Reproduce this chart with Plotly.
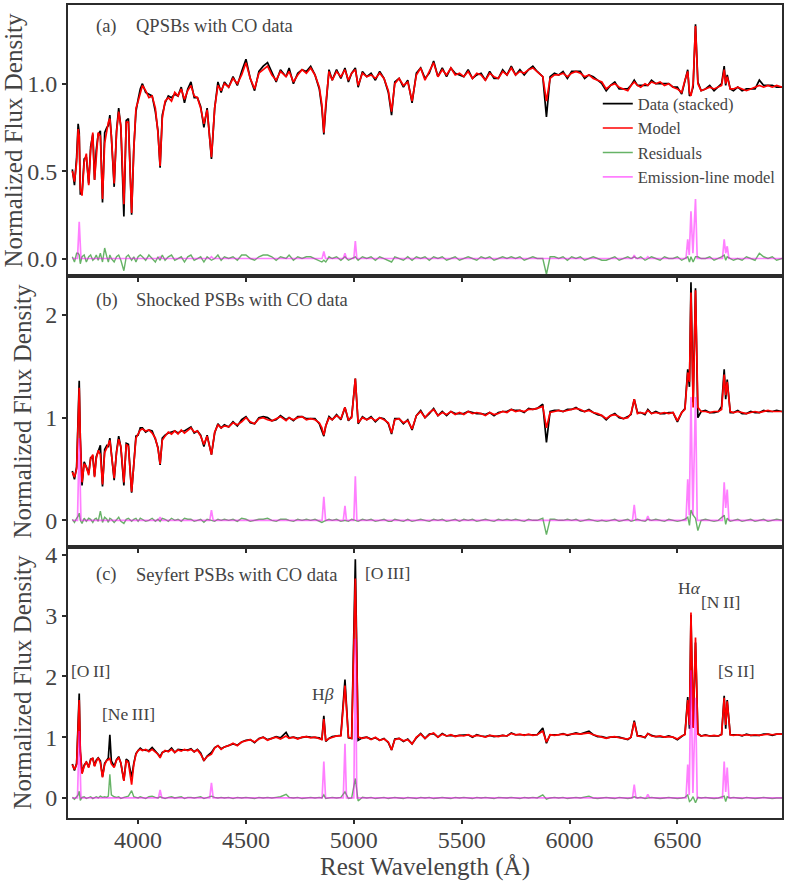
import plotly.graph_objects as go
from plotly.subplots import make_subplots

# ---------------- data ----------------
wave = [
    3695, 3705, 3715, 3722, 3727, 3732, 3740, 3750, 3760, 3771,
    3780, 3790, 3798, 3806, 3815, 3825, 3835, 3845, 3855, 3862,
    3869, 3876, 3889, 3900, 3910, 3920, 3934, 3945, 3955, 3970,
    3980, 3990, 4000, 4010, 4020, 4035, 4050, 4065, 4080, 4092,
    4102, 4112, 4125, 4140, 4155, 4170, 4185, 4200, 4215, 4230,
    4245, 4260, 4275, 4290, 4305, 4320, 4340, 4355, 4370, 4385,
    4400, 4420, 4440, 4460, 4480, 4500, 4520, 4540, 4560, 4580,
    4600, 4620, 4640, 4660, 4686, 4700, 4720, 4740, 4760, 4780,
    4800, 4820, 4840, 4852, 4861, 4870, 4885, 4900, 4920, 4940,
    4959, 4975, 4990, 5007, 5020, 5040, 5060, 5080, 5100, 5120,
    5140, 5160, 5175, 5190, 5210, 5230, 5250, 5270, 5290, 5310,
    5330, 5350, 5370, 5390, 5410, 5430, 5450, 5470, 5490, 5510,
    5530, 5550, 5570, 5590, 5610, 5630, 5650, 5670, 5690, 5710,
    5730, 5750, 5770, 5790, 5810, 5830, 5850, 5876, 5893, 5910,
    5930, 5950, 5970, 5990, 6010, 6030, 6050, 6070, 6090, 6110,
    6130, 6150, 6170, 6190, 6210, 6230, 6250, 6270, 6285, 6300,
    6315, 6330, 6350, 6363, 6380, 6400, 6420, 6440, 6460, 6480,
    6500, 6520, 6535, 6548, 6556, 6563, 6573, 6584, 6595, 6610,
    6630, 6650, 6670, 6690, 6705, 6717, 6724, 6731, 6745, 6760,
    6780, 6800, 6820, 6840, 6860, 6880, 6900, 6920, 6940, 6960,
    6985,
]

model_a = [
    0.50, 0.44, 0.55, 0.74, 0.70, 0.40, 0.36, 0.55, 0.60, 0.42,
    0.62, 0.72, 0.45, 0.60, 0.72, 0.70, 0.34, 0.66, 0.74, 0.78,
    0.80, 0.70, 0.43, 0.72, 0.84, 0.76, 0.31, 0.78, 0.78, 0.26,
    0.62, 0.86, 0.90, 0.95, 0.99, 0.96, 0.92, 0.93, 0.86, 0.72,
    0.53, 0.80, 0.90, 0.92, 0.90, 0.95, 0.93, 0.97, 0.91, 0.96,
    0.99, 0.93, 0.92, 0.86, 0.77, 0.85, 0.58, 0.86, 0.99, 0.96,
    1.00, 0.98, 1.03, 1.00, 1.05, 1.12, 1.03, 0.97, 1.06, 1.08,
    1.10, 1.05, 1.02, 1.07, 1.04, 1.07, 1.01, 1.05, 1.08, 1.06,
    1.09, 1.05, 0.98, 0.88, 0.72, 0.88, 1.07, 1.02, 1.07, 1.04,
    1.08, 1.02, 1.06, 1.08, 0.99, 1.06, 1.04, 1.05, 1.03, 1.06,
    1.03, 0.96, 0.84, 1.00, 1.03, 0.99, 1.01, 0.90, 1.05, 1.09,
    1.02, 1.07, 1.12, 1.04, 1.08, 1.05, 1.09, 1.05, 1.06, 1.04,
    1.07, 1.03, 1.06, 1.05, 1.02, 1.06, 1.04, 1.03, 1.07, 1.05,
    1.09, 1.05, 1.07, 1.06, 1.08, 1.09, 1.07, 1.04, 0.90, 1.03,
    1.05, 1.05, 1.06, 1.04, 1.06, 1.07, 1.06, 1.04, 1.05, 1.03,
    1.02, 1.01, 0.97, 0.99, 1.00, 0.98, 0.97, 0.96, 0.99, 1.01,
    0.99, 0.98, 1.00, 0.99, 1.01, 1.00, 1.01, 0.99, 1.00, 0.98,
    0.97, 0.95, 1.02, 1.07, 0.95, 0.93, 1.00, 1.33, 1.00, 0.96,
    0.97, 0.98, 0.97, 0.98, 0.99, 1.08, 1.00, 1.04, 0.97, 0.97,
    0.98, 0.97, 0.96, 0.97, 0.98, 0.99, 0.98, 0.99, 0.98, 0.99,
    0.98,
]
resid_a = [
    0.01, -0.02, 0.03, 0.03, 0.02, -0.03, 0.01, 0.02, -0.02, 0.01,
    0.02, -0.01, 0.00, 0.02, -0.01, 0.03, -0.02, 0.06, 0.01, -0.02,
    0.02, 0.00, -0.02, 0.01, 0.02, -0.01, -0.07, 0.01, 0.02, -0.01,
    0.01, -0.02, 0.01, 0.02, 0.01, -0.01, 0.02, 0.00, -0.02, 0.01,
    -0.01, 0.02, -0.01, 0.01, 0.02, -0.01, 0.00, 0.01, -0.02, 0.01,
    0.02, -0.01, 0.00, 0.01, -0.02, 0.01, -0.01, 0.00, 0.02, -0.01,
    0.01, 0.00, 0.01, -0.01, 0.02, 0.02, 0.00, -0.01, 0.01, 0.02,
    0.02, 0.01, -0.01, 0.01, 0.00, 0.02, -0.01, 0.01, 0.00, 0.01,
    0.01, 0.00, -0.01, -0.02, -0.01, -0.02, 0.01, 0.00, 0.01, -0.01,
    0.01, -0.01, 0.00, 0.01, -0.01, 0.01, 0.00, 0.01, -0.01, 0.01,
    0.00, -0.01, -0.02, 0.01, 0.00, -0.01, 0.01, -0.01, 0.01, 0.00,
    0.01, -0.01, 0.01, 0.00, 0.01, -0.01, 0.00, 0.01, -0.01, 0.00,
    0.01, 0.00, -0.01, 0.01, 0.00, 0.01, -0.01, 0.00, 0.01, 0.00,
    0.01, 0.00, 0.01, -0.01, 0.00, 0.01, 0.00, 0.00, -0.09, 0.01,
    0.01, 0.00, 0.01, -0.01, 0.01, 0.00, 0.01, -0.01, 0.00, 0.01,
    0.00, -0.01, -0.01, 0.00, 0.01, -0.01, 0.00, 0.01, 0.00, 0.01,
    0.00, 0.01, -0.01, 0.00, 0.01, 0.00, -0.01, 0.01, 0.00, 0.00,
    0.01, -0.01, 0.00, 0.01, -0.02, 0.01, -0.02, 0.01, 0.01, 0.00,
    0.00, 0.01, -0.01, 0.00, 0.01, 0.02, -0.01, 0.01, 0.00, -0.01,
    0.00, -0.01, 0.01, 0.00, -0.01, 0.03, 0.01, 0.00, 0.01, -0.01,
    0.00,
]

model_b = [
    0.47, 0.42, 0.50, 1.10, 1.29, 0.80, 0.37, 0.55, 0.52, 0.44,
    0.60, 0.64, 0.42, 0.60, 0.68, 0.64, 0.35, 0.66, 0.72, 0.74,
    0.78, 0.64, 0.41, 0.66, 0.79, 0.72, 0.37, 0.74, 0.72, 0.28,
    0.58, 0.80, 0.84, 0.88, 0.89, 0.87, 0.88, 0.85, 0.80, 0.70,
    0.55, 0.78, 0.82, 0.86, 0.84, 0.87, 0.84, 0.88, 0.85, 0.88,
    0.90, 0.86, 0.87, 0.82, 0.74, 0.82, 0.64, 0.86, 0.93, 0.90,
    0.92, 0.91, 0.95, 0.93, 0.96, 1.00, 0.96, 0.94, 0.99, 1.00,
    0.98, 0.97, 0.99, 1.01, 0.97, 1.00, 0.98, 1.00, 1.01, 0.98,
    0.99, 0.98, 0.95, 0.90, 0.83, 0.92, 1.00, 0.98, 1.02, 0.99,
    1.10, 0.98, 1.00, 1.38, 0.95, 1.00, 0.98, 1.00, 0.97, 1.00,
    0.98, 0.95, 0.85, 0.98, 0.99, 0.95, 0.97, 0.89, 1.02, 1.06,
    1.00, 1.05, 1.08, 1.02, 1.05, 1.03, 1.06, 1.03, 1.05, 1.03,
    1.06, 1.04, 1.05, 1.04, 1.02, 1.05, 1.03, 1.04, 1.06, 1.05,
    1.08, 1.06, 1.07, 1.06, 1.08, 1.08, 1.09, 1.11, 0.90, 1.05,
    1.06, 1.07, 1.06, 1.07, 1.08, 1.09, 1.08, 1.06, 1.07, 1.05,
    1.04, 1.02, 0.99, 1.02, 1.03, 1.01, 0.99, 1.00, 1.04, 1.18,
    1.04, 1.05, 1.04, 1.07, 1.04, 1.05, 1.04, 1.05, 1.04, 1.05,
    0.97, 1.05, 1.08, 1.44, 1.35, 2.22, 1.10, 2.24, 1.10, 1.06,
    1.06, 1.05, 1.06, 1.06, 1.08, 1.42, 1.22, 1.35, 1.06, 1.05,
    1.06, 1.05, 1.04, 1.05, 1.06, 1.05, 1.06, 1.07, 1.06, 1.06,
    1.06,
]
resid_b = [
    0.01, -0.02, 0.02, 0.04, 0.07, 0.00, -0.03, 0.02, -0.01, 0.02,
    0.01, -0.02, 0.01, 0.02, -0.01, 0.09, -0.02, 0.03, 0.01, -0.02,
    0.02, 0.01, -0.02, 0.01, 0.03, -0.01, -0.03, 0.01, 0.02, -0.01,
    0.01, 0.02, -0.01, 0.02, 0.01, -0.01, 0.00, 0.02, -0.01, 0.01,
    -0.01, 0.02, 0.01, -0.01, 0.02, 0.00, 0.01, -0.01, 0.02, 0.01,
    0.01, -0.01, 0.00, 0.01, -0.02, 0.01, 0.00, -0.01, 0.01, 0.00,
    0.01, 0.00, 0.01, -0.01, 0.02, 0.01, -0.01, 0.00, 0.01, 0.01,
    0.02, 0.00, -0.01, 0.01, 0.01, 0.00, -0.01, 0.01, 0.00, 0.01,
    0.00, 0.01, -0.01, -0.02, -0.01, 0.00, 0.01, 0.00, 0.01, -0.01,
    0.00, -0.01, 0.01, 0.00, -0.01, 0.01, 0.00, 0.01, -0.01, 0.00,
    0.01, -0.01, -0.01, 0.01, 0.00, -0.01, 0.01, -0.01, 0.00, 0.01,
    0.00, -0.01, 0.01, 0.00, 0.01, -0.01, 0.00, 0.01, -0.01, 0.01,
    0.00, 0.01, -0.01, 0.00, 0.01, 0.00, -0.01, 0.01, 0.00, 0.01,
    0.00, 0.01, 0.00, -0.01, 0.01, 0.00, 0.00, 0.02, -0.14, 0.01,
    0.01, 0.00, 0.00, 0.01, 0.00, 0.01, -0.01, 0.00, 0.01, 0.00,
    -0.01, 0.00, -0.01, 0.00, 0.01, -0.01, 0.00, 0.01, -0.01, 0.00,
    0.01, 0.00, -0.01, 0.01, 0.00, 0.01, 0.00, -0.01, 0.01, 0.00,
    -0.01, 0.00, 0.01, 0.03, -0.05, 0.10, 0.05, 0.02, -0.10, 0.00,
    0.01, 0.00, -0.01, 0.00, 0.03, 0.05, -0.04, 0.02, -0.01, 0.00,
    0.01, -0.01, 0.00, 0.01, -0.01, 0.00, 0.01, -0.01, 0.00, 0.01,
    0.00,
]

model_c = [
    0.55, 0.47, 0.55, 1.20, 1.61, 0.80, 0.40, 0.52, 0.60, 0.50,
    0.62, 0.66, 0.52, 0.60, 0.66, 0.58, 0.34, 0.55, 0.62, 0.63,
    0.65, 0.56, 0.50, 0.62, 0.66, 0.58, 0.28, 0.62, 0.58, 0.22,
    0.55, 0.72, 0.78, 0.80, 0.78, 0.80, 0.76, 0.80, 0.76, 0.72,
    0.66, 0.74, 0.78, 0.76, 0.80, 0.75, 0.79, 0.77, 0.80, 0.78,
    0.80, 0.76, 0.79, 0.72, 0.62, 0.68, 0.72, 0.82, 0.86, 0.80,
    0.84, 0.86, 0.90, 0.86, 0.92, 0.94, 0.96, 0.92, 0.97, 1.00,
    0.95, 0.98, 1.00, 0.97, 1.02, 0.98, 1.00, 0.97, 1.00, 1.01,
    0.99, 1.00, 0.98, 0.96, 1.30, 0.94, 0.98, 1.00, 1.02, 1.02,
    1.85, 1.00, 0.98, 3.61, 1.00, 0.98, 1.00, 0.96, 1.00, 0.95,
    0.97, 0.92, 0.79, 0.96, 0.98, 0.94, 0.96, 0.89, 1.00, 1.05,
    0.98, 1.04, 1.07, 1.00, 1.05, 1.02, 1.04, 1.01, 1.03, 1.02,
    1.04, 1.01, 1.03, 1.02, 1.00, 1.03, 1.02, 1.01, 1.03, 1.02,
    1.06, 1.04, 1.05, 1.03, 1.05, 1.03, 1.04, 1.10, 0.92, 1.04,
    1.03, 1.04, 1.05, 1.04, 1.05, 1.06, 1.05, 1.06, 1.07, 1.04,
    1.02, 1.01, 0.98, 1.00, 1.01, 0.99, 0.98, 0.97, 1.00, 1.25,
    1.02, 1.01, 1.00, 1.06, 1.02, 1.01, 1.02, 1.00, 1.01, 1.00,
    0.97, 1.02, 1.04, 1.61, 1.20, 3.05, 1.15, 2.64, 1.05, 1.02,
    1.03, 1.02, 1.03, 1.02, 1.04, 1.65, 1.20, 1.59, 1.04, 1.03,
    1.04, 1.03, 1.04, 1.03, 1.04, 1.03, 1.04, 1.05, 1.04, 1.05,
    1.05,
]
resid_c = [
    0.01, -0.02, 0.02, 0.05, 0.11, -0.04, 0.01, 0.02, -0.01, 0.01,
    0.02, -0.01, 0.01, 0.02, 0.00, 0.03, 0.01, 0.02, 0.01, 0.03,
    0.39, 0.05, 0.02, 0.01, 0.02, -0.01, 0.01, 0.02, 0.03, 0.12,
    0.02, 0.01, 0.00, 0.02, 0.01, -0.01, 0.02, 0.03, 0.01, 0.00,
    0.02, 0.01, -0.01, 0.01, 0.02, 0.00, 0.01, 0.02, -0.01, 0.01,
    0.01, 0.00, 0.01, 0.02, -0.01, 0.01, 0.03, 0.01, 0.00, 0.01,
    0.00, 0.01, -0.01, 0.01, 0.00, 0.01, 0.00, -0.01, 0.01, 0.00,
    0.01, 0.00, 0.01, 0.02, 0.06, 0.01, 0.00, 0.01, -0.01, 0.00,
    0.01, 0.00, 0.01, 0.00, 0.05, -0.01, 0.00, 0.01, 0.00, 0.01,
    0.10, -0.01, 0.00, 0.32, -0.05, 0.01, 0.00, 0.01, -0.01, 0.00,
    0.01, -0.01, 0.00, 0.01, 0.00, -0.01, 0.01, 0.00, -0.01, 0.01,
    0.00, 0.01, -0.01, 0.00, 0.01, 0.00, -0.01, 0.01, 0.00, 0.01,
    0.00, -0.01, 0.01, 0.00, 0.01, 0.00, -0.01, 0.01, 0.00, 0.00,
    0.01, 0.00, -0.01, 0.01, 0.00, 0.01, 0.00, 0.05, -0.02, 0.00,
    0.01, 0.00, 0.01, -0.01, 0.00, 0.01, 0.00, 0.01, 0.03, 0.00,
    -0.01, 0.00, 0.01, 0.00, -0.01, 0.01, 0.00, -0.01, 0.00, 0.02,
    0.00, 0.01, -0.01, 0.00, 0.01, 0.00, -0.01, 0.00, 0.01, 0.00,
    -0.01, 0.00, 0.01, 0.05, -0.06, -0.04, 0.02, -0.08, 0.01, 0.00,
    0.01, 0.00, -0.01, 0.00, 0.01, 0.03, -0.06, 0.02, 0.00, 0.01,
    0.00, -0.01, 0.01, 0.00, -0.01, 0.00, 0.01, 0.00, -0.01, 0.00,
    0.00,
]

# emission-line model grid and values
em_wave = [3695, 3719, 3727, 3735, 4094, 4102, 4110, 4332, 4340, 4348,
           4853, 4861, 4869, 4951, 4959, 4966, 5000, 5007, 5014,
           6292, 6300, 6308, 6355, 6363, 6371,
           6540, 6548, 6555, 6563, 6572, 6584, 6592,
           6709, 6717, 6724, 6731, 6739, 6985]
em_a = [0, 0, 0.21, 0, 0, 0.01, 0, 0, 0.01, 0,
        0, 0.04, 0, 0, 0.03, 0, 0, 0.10, 0,
        0, 0.02, 0, 0, 0.01, 0,
        0, 0.11, 0.02, 0.27, 0.03, 0.34, 0,
        0, 0.11, 0.03, 0.07, 0, 0]
em_b = [0, 0, 0.80, 0, 0, 0.03, 0, 0, 0.10, 0,
        0, 0.23, 0, 0, 0.14, 0, 0, 0.43, 0,
        0, 0.15, 0, 0, 0.04, 0,
        0, 0.40, 0.05, 1.20, 0.05, 1.20, 0,
        0, 0.37, 0.12, 0.30, 0, 0]
em_c = [0, 0, 1.10, 0, 0, 0.13, 0, 0, 0.25, 0,
        0, 0.60, 0, 0, 0.89, 0, 0, 2.62, 0,
        0, 0.22, 0, 0, 0.06, 0,
        0, 0.55, 0.05, 2.10, 0.08, 1.65, 0,
        0, 0.60, 0.10, 0.50, 0, 0]

panel_titles = ["QPSBs with CO data", "Shocked PSBs with CO data", "Seyfert PSBs with CO data"]
panel_tags = ["(a)", "(b)", "(c)"]

line_labels = ["[O\u2009II]", "[Ne\u2009III]", "H<i>β</i>", "[O\u2009III]", "H<i>α</i>", "[N\u2009II]", "[S\u2009II]"]
line_label_x = [3777, 3954, 4855, 5157, 6555, 6699, 6773]
line_label_y = [2.09, 1.38, 1.71, 3.70, 3.45, 3.23, 2.09]

for arr in (model_a, resid_a, model_b, resid_b, model_c, resid_c):
    assert len(arr) == len(wave), len(arr)
for arr in (em_a, em_b, em_c):
    assert len(arr) == len(em_wave)

# ---------------- figure ----------------
FONT = "Liberation Serif"
TXT = "#444444"
AX = "#2b2b2b"

fig = make_subplots(rows=3, cols=1, shared_xaxes=True, vertical_spacing=0)

panels = [(model_a, resid_a, em_a), (model_b, resid_b, em_b), (model_c, resid_c, em_c)]
for i, (mod, res, em) in enumerate(panels):
    row = i + 1
    data = [round(m + r, 3) for m, r in zip(mod, res)]
    show = (i == 0)
    fig.add_trace(go.Scatter(x=wave, y=data, mode="lines", name="Data (stacked)",
                             line=dict(color="black", width=1.7), showlegend=show,
                             legendgroup="d"), row=row, col=1)
    fig.add_trace(go.Scatter(x=wave, y=mod, mode="lines", name="Model",
                             line=dict(color="#ff0000", width=1.7), showlegend=show,
                             legendgroup="m"), row=row, col=1)
    fig.add_trace(go.Scatter(x=wave, y=res, mode="lines", name="Residuals",
                             line=dict(color="rgba(0,128,0,0.6)", width=1.4), showlegend=show,
                             legendgroup="r"), row=row, col=1)
    fig.add_trace(go.Scatter(x=em_wave, y=em, mode="lines", name="Emission-line model",
                             line=dict(color="rgba(255,0,255,0.5)", width=1.7), showlegend=show,
                             legendgroup="e"), row=row, col=1)

yranges = [[-0.10, 1.45], [-0.26, 2.38], [-0.33, 4.13]]
ytickvals = [[0, 0.5, 1.0], [0, 1, 2], [0, 1, 2, 3, 4]]
yticktext = [["0.0", "0.5", "1.0"], ["0", "1", "2"], ["0", "1", "2", "3", "4"]]
domains = [[2 / 3, 1.0], [1 / 3, 2 / 3], [0.0, 1 / 3]]

axis_common = dict(showline=True, linecolor=AX, linewidth=2, mirror=True,
                   ticks="outside", ticklen=4, tickwidth=1.5, tickcolor=AX,
                   showgrid=False, zeroline=False, automargin=False,
                   tickfont=dict(family=FONT, size=24, color=TXT))

for i in range(3):
    yname = "yaxis" if i == 0 else f"yaxis{i + 1}"
    xname = "xaxis" if i == 0 else f"xaxis{i + 1}"
    fig.layout[yname].update(range=yranges[i], tickvals=ytickvals[i], ticktext=yticktext[i],
                             domain=domains[i],
                             title=dict(text="Normalized Flux Density",
                                        font=dict(family=FONT, size=25, color=TXT), standoff=6),
                             **axis_common)
    fig.layout[xname].update(range=[3675, 6985], tickvals=[4000, 4500, 5000, 5500, 6000, 6500],
                             **axis_common)

fig.layout["xaxis3"].update(ticklabelstandoff=-5,
                            title=dict(text="Rest Wavelength (Å)",
                                       font=dict(family=FONT, size=25, color=TXT), standoff=0))

# panel labels
label_y = [0.974, 0.637, 0.299]
for i in range(3):
    fig.add_annotation(xref="paper", yref="paper", x=0.036, y=label_y[i], text=panel_tags[i],
                       showarrow=False, xanchor="left", yanchor="middle",
                       font=dict(family=FONT, size=18.5, color=TXT))
    fig.add_annotation(xref="paper", yref="paper", x=0.092, y=label_y[i], text=panel_titles[i],
                       showarrow=False, xanchor="left", yanchor="middle",
                       font=dict(family=FONT, size=18.5, color=TXT))

# emission line labels in panel (c)
for t, lx, ly in zip(line_labels, line_label_x, line_label_y):
    fig.add_annotation(xref="x3", yref="y3", x=lx, y=ly, text=t, showarrow=False,
                       xanchor="center", yanchor="middle",
                       font=dict(family=FONT, size=17.5, color=TXT))

fig.update_layout(
    width=789, height=885,
    margin=dict(l=68, r=7, t=5, b=67, autoexpand=False),
    plot_bgcolor="white", paper_bgcolor="white",
    font=dict(family=FONT, color=TXT),
    legend=dict(x=0.742, y=0.900, xanchor="left", yanchor="top",
                bgcolor="rgba(0,0,0,0)", tracegroupgap=0,
                font=dict(family=FONT, size=16.5, color=TXT)),
)

fig.write_html("out.html", config={"displayModeBar": False},
               post_script="document.body.style.margin='0';document.body.style.overflow='hidden';")
